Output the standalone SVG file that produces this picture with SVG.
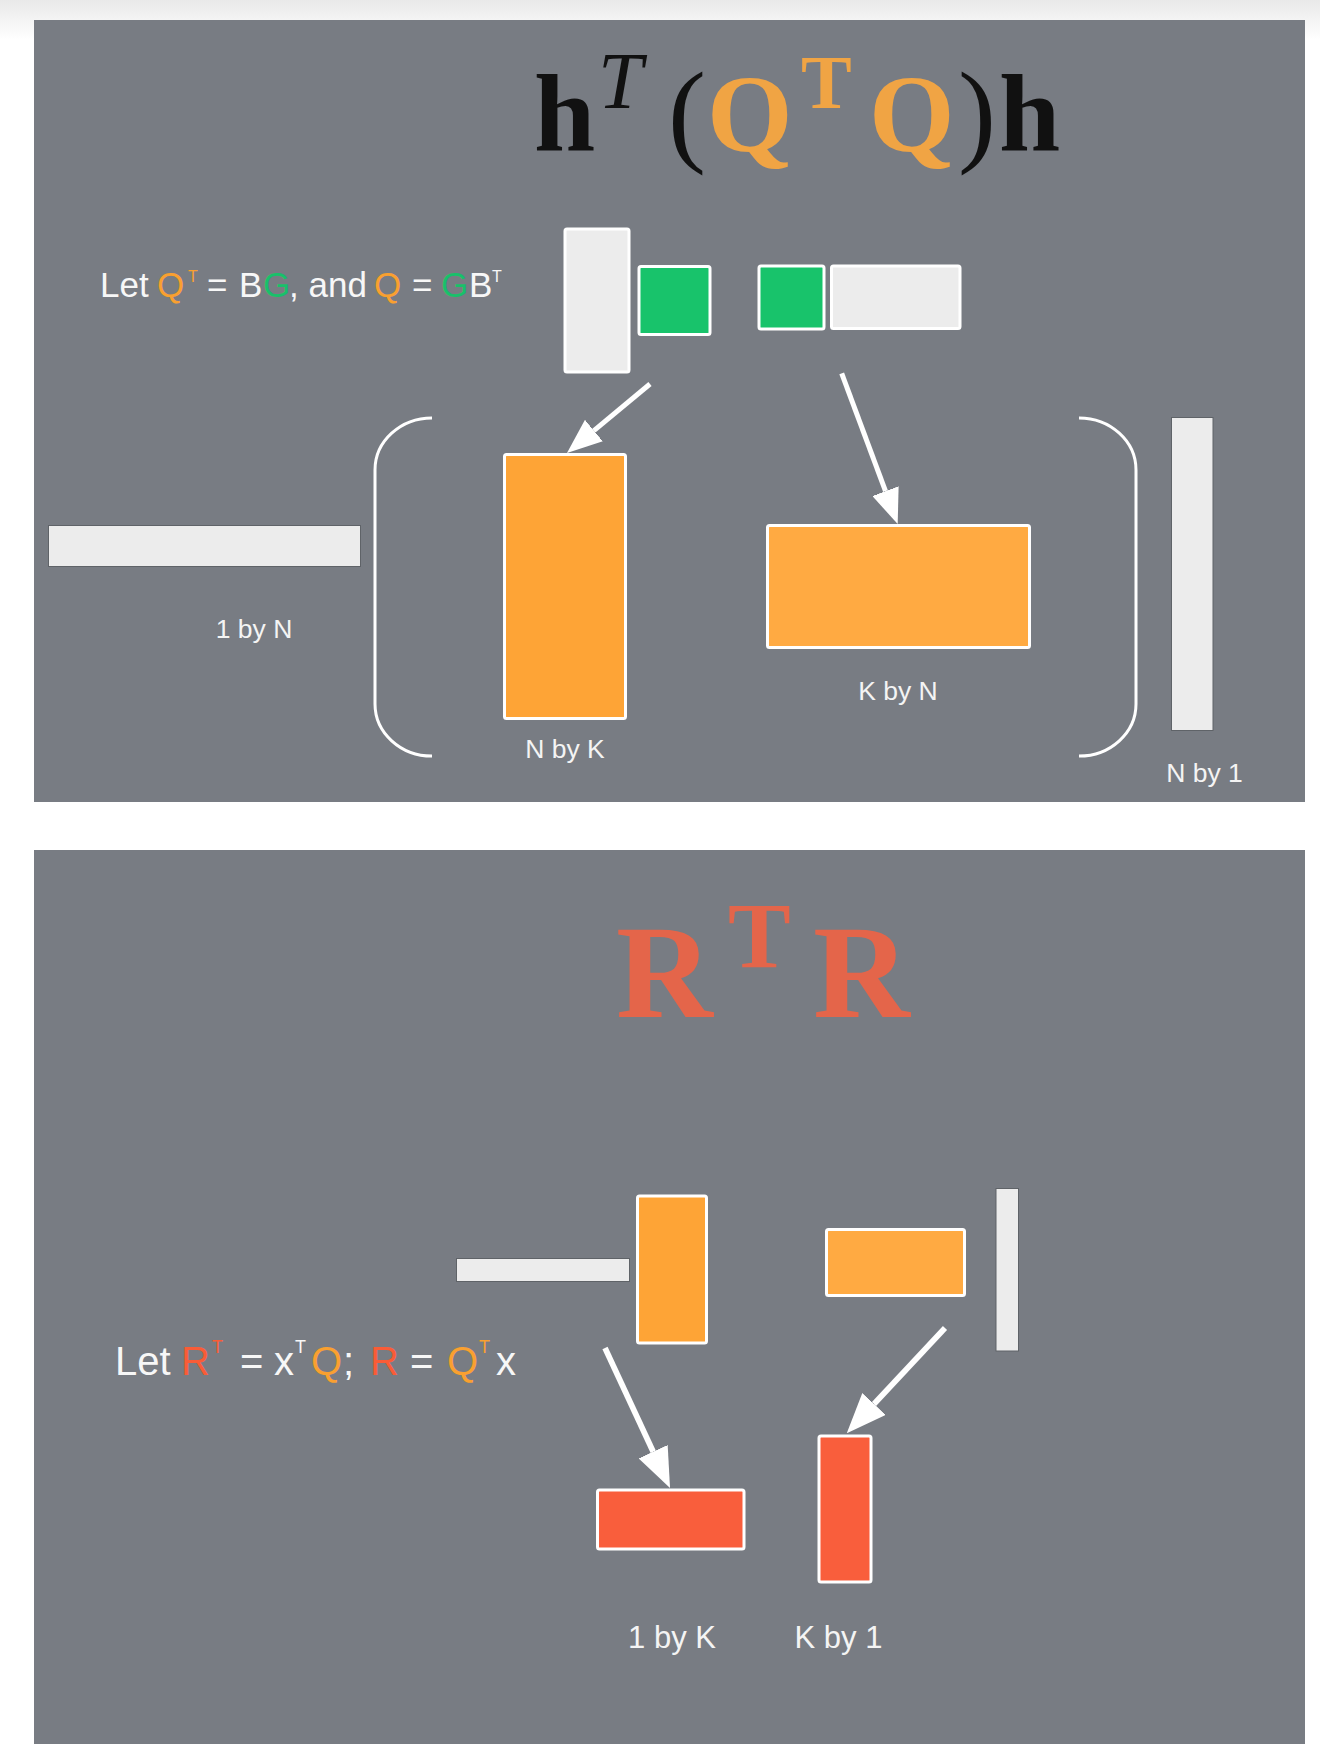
<svg xmlns="http://www.w3.org/2000/svg" width="1320" height="1760" viewBox="0 0 1320 1760">
  <defs>
    <linearGradient id="pageGrad" x1="0" y1="0" x2="0" y2="1">
      <stop offset="0" stop-color="#e9e9e9"/>
      <stop offset="1" stop-color="#ffffff"/>
    </linearGradient>
    <marker id="head" viewBox="0 0 7 5.6" refX="0" refY="2.8" markerWidth="7" markerHeight="5.6" markerUnits="strokeWidth" orient="auto">
      <path d="M0,0 L7,2.8 L0,5.6 Z" fill="#ffffff"/>
    </marker>
    <style>
      .panel { fill: #787c83; }
      .white-box { stroke: #ffffff; stroke-width: 3; }
      .gray-box { fill: #ececec; stroke: #5f6368; stroke-width: 1; }
      .gray-w { fill: #ececec; }
      .green { fill: #18c36b; }
      .orange { fill: #fea436; }
      .orange2 { fill: #ffaa42; }
      .red { fill: #f95e3c; }
      .lbl { font-family: "Liberation Sans", Arial, sans-serif; fill: #f4f4f4; text-anchor: middle; }
      .eq { font-family: "Liberation Sans", Arial, sans-serif; fill: #f7f7f7; }
      .math { font-family: "Liberation Serif", "Times New Roman", serif; }
      .conn { stroke: #ffffff; fill: none; marker-end: url(#head); }
      .bracket { stroke: #ffffff; stroke-width: 3; fill: none; }
    </style>
  </defs>

  <rect x="0" y="0" width="1320" height="1760" fill="#ffffff"/>
  <rect x="0" y="0" width="1320" height="40" fill="url(#pageGrad)"/>

  <!-- Panel 1 -->
  <rect class="panel" x="34" y="20" width="1271" height="782"/>
  <!-- Panel 2 -->
  <rect class="panel" x="34" y="850" width="1271" height="894"/>

  <!-- Formula 1 -->
  <g id="formula1" class="math">
    <text x="534" y="151" font-size="110" font-weight="bold" fill="#111111">h</text>
    <text x="598" y="108" font-size="80" font-style="italic" fill="#111111">T</text>
    <text x="668" y="151" font-size="114" fill="#111111">(</text>
    <text x="707" y="151" font-size="110" font-weight="bold" fill="#f0a444">Q</text>
    <text x="801" y="108" font-size="76" font-weight="bold" fill="#f0a444">T</text>
    <text x="869" y="151" font-size="110" font-weight="bold" fill="#f0a444">Q</text>
    <text x="958" y="151" font-size="114" fill="#111111">)</text>
    <text x="999" y="151" font-size="110" font-weight="bold" fill="#111111">h</text>
  </g>

  <!-- Definition text 1 -->
  <g id="def1">
    <text class="eq" y="297" font-size="35">
      <tspan x="100">Let</tspan>
      <tspan x="157" fill="#f9a030">Q</tspan>
      <tspan x="188" y="282" font-size="16" fill="#f9a030">T</tspan>
      <tspan x="207" y="297">=</tspan>
      <tspan x="239">B</tspan>
      <tspan x="263" fill="#19c06a">G</tspan>
      <tspan x="289">, and</tspan>
      <tspan x="374" fill="#f9a030">Q</tspan>
      <tspan x="412">=</tspan>
      <tspan x="441" fill="#19c06a">G</tspan>
      <tspan x="469">B</tspan>
      <tspan x="492" y="282" font-size="16">T</tspan>
    </text>
  </g>

  <!-- Top small factors -->
  <g id="B-tall"><rect class="gray-w white-box" x="565" y="229" width="64" height="143" rx="2"/></g>
  <g id="G-1"><rect class="green white-box" x="639" y="266.5" width="71" height="68" rx="2"/></g>
  <g id="G-2"><rect class="green white-box" x="759" y="266" width="65" height="63" rx="2"/></g>
  <g id="B-wide"><rect class="gray-w white-box" x="831.5" y="266" width="128.5" height="62.5" rx="2"/></g>

  <!-- Brackets -->
  <g id="bracket-left"><path class="bracket" d="M432,418 A57,52 0 0 0 375,470 L375,704 A57,52 0 0 0 432,756"/></g>
  <g id="bracket-right"><path class="bracket" d="M1079,418 A57,52 0 0 1 1136,470 L1136,704 A57,52 0 0 1 1079,756"/></g>

  <!-- Panel 1 matrices -->
  <g id="hT">
    <rect class="gray-box" x="48.5" y="525.5" width="312" height="41"/>
    <text class="lbl" x="254" y="638" font-size="26.5">1 by N</text>
  </g>
  <g id="Q-NbyK">
    <rect class="orange white-box" x="504.5" y="454.5" width="121" height="264" rx="2"/>
    <text class="lbl" x="565" y="758" font-size="26.5">N by K</text>
  </g>
  <g id="QT-KbyN">
    <rect class="orange2 white-box" x="767.5" y="525.5" width="262" height="122" rx="2"/>
    <text class="lbl" x="898" y="700" font-size="26.5">K by N</text>
  </g>
  <g id="h">
    <rect class="gray-box" x="1171.5" y="417.5" width="41.5" height="313"/>
    <text class="lbl" x="1204.5" y="782" font-size="26.5">N by 1</text>
  </g>

  <!-- Formula 2 -->
  <g id="formula2" class="math" font-weight="bold" fill="#e4654a">
    <text x="616" y="1017" font-size="134">R</text>
    <text x="728" y="967" font-size="94">T</text>
    <text x="813" y="1017" font-size="134">R</text>
  </g>

  <!-- Definition text 2 -->
  <g id="def2">
    <text class="eq" y="1375" font-size="40">
      <tspan x="115">Let</tspan>
      <tspan x="181" fill="#f95c37">R</tspan>
      <tspan x="212" y="1353" font-size="18" fill="#f95c37">T</tspan>
      <tspan x="240" y="1375">=</tspan>
      <tspan x="274">x</tspan>
      <tspan x="295" y="1353" font-size="18">T</tspan>
      <tspan x="311" y="1375" fill="#f9a030">Q</tspan>
      <tspan x="343">;</tspan>
      <tspan x="370" fill="#f95c37">R</tspan>
      <tspan x="410">=</tspan>
      <tspan x="447" fill="#f9a030">Q</tspan>
      <tspan x="479" y="1353" font-size="18" fill="#f9a030">T</tspan>
      <tspan x="496" y="1375">x</tspan>
    </text>
  </g>

  <!-- Panel 2 matrices -->
  <g id="xT"><rect class="gray-box" x="456.5" y="1258.5" width="173" height="23"/></g>
  <g id="Q-tall"><rect class="orange white-box" x="637.5" y="1196" width="69" height="147" rx="2"/></g>
  <g id="QT-wide"><rect class="orange2 white-box" x="826.5" y="1229.5" width="138" height="66" rx="2"/></g>
  <g id="x"><rect class="gray-box" x="996" y="1188.5" width="22.5" height="162.5"/></g>
  <g id="RT-1byK">
    <rect class="red white-box" x="597.5" y="1490" width="146.5" height="59" rx="2"/>
    <text class="lbl" x="672" y="1648" font-size="31">1 by K</text>
  </g>
  <g id="R-Kby1">
    <rect class="red white-box" x="819" y="1436" width="52" height="146" rx="2"/>
    <text class="lbl" x="838.5" y="1648" font-size="31">K by 1</text>
  </g>

  <!-- Connectors -->
  <g id="connectors">
    <path class="conn" stroke-width="5" d="M650,384 L593.9,430.6"/>
    <path class="conn" stroke-width="5" d="M841.7,373.3 L885.5,491.2"/>
    <path class="conn" stroke-width="5.7" d="M605,1348 L653.2,1451.7"/>
    <path class="conn" stroke-width="5.7" d="M945,1328 L874,1404"/>
  </g>
</svg>
